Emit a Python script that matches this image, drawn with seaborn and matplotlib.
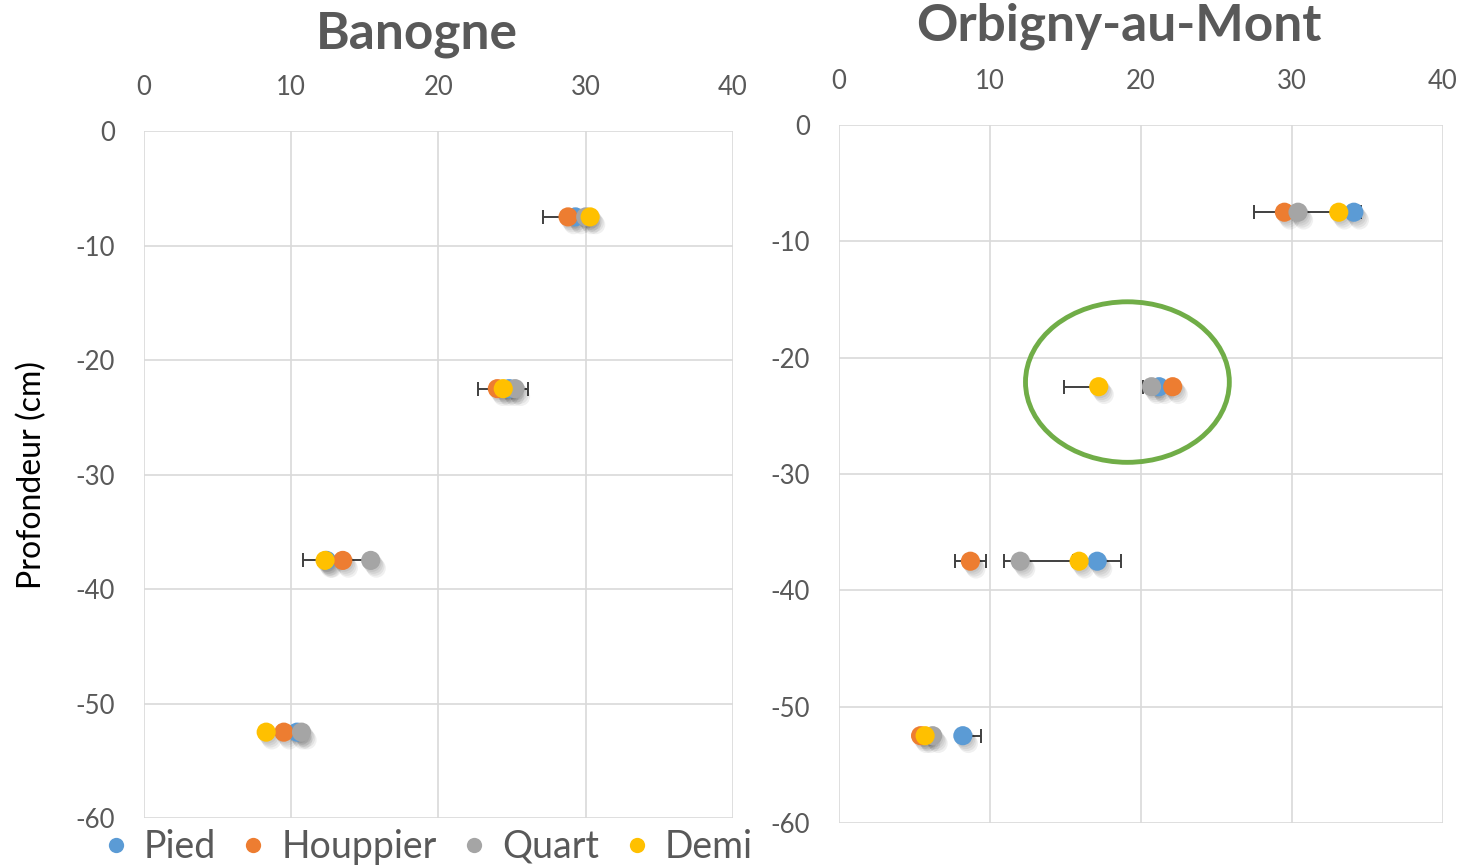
import numpy as np
import pandas as pd
import matplotlib
matplotlib.use("Agg")
import matplotlib.pyplot as plt
import matplotlib.patheffects as pe
from matplotlib.patches import Ellipse
from matplotlib.lines import Line2D
import seaborn as sns

# depths of the four soil layers (cm)
depths = [-7.5, -22.5, -37.5, -52.5]
series = ["Pied", "Houppier", "Quart", "Demi"]
colors = ["#5b9bd5", "#ed7d31", "#a5a5a5", "#ffc000"]

# Banogne values
ban_pied = [29.3, 24.8, 12.4, 10.4]
ban_houppier = [28.8, 24.0, 13.5, 9.5]
ban_quart = [30.0, 25.2, 15.4, 10.7]
ban_demi = [30.3, 24.4, 12.3, 8.3]
# error bars (minus, plus)
ban_err_lo = {"Pied": [0, 0, 0, 0], "Houppier": [1.7, 0, 0, 0],
              "Quart": [0, 0, 4.6, 0], "Demi": [0, 1.7, 0, 0]}
ban_err_hi = {"Pied": [0, 0, 0, 0], "Houppier": [1.7, 0, 0, 0],
              "Quart": [0, 0, 0.3, 0], "Demi": [0, 1.7, 0, 0]}

# Orbigny-au-Mont values
orb_pied = [34.1, 21.2, 17.1, 8.2]
orb_houppier = [29.5, 22.1, 8.7, 5.4]
orb_quart = [30.4, 20.7, 12.0, 6.2]
orb_demi = [33.1, 17.2, 15.9, 5.7]
orb_err_lo = {"Pied": [6.6, 0, 1.6, 0], "Houppier": [0, 0, 1.05, 0.3],
              "Quart": [0, 0.6, 1.1, 0], "Demi": [0, 2.3, 0, 0]}
orb_err_hi = {"Pied": [0.5, 0, 1.6, 1.2], "Houppier": [0, 0, 1.05, 0],
              "Quart": [0, 0, 3.9, 0], "Demi": [0, 0, 0, 0]}

x_ticks = [0, 10, 20, 30, 40]
y_ticks = [0, -10, -20, -30, -40, -50, -60]


def make_df(vals):
    rows = []
    for name, v in zip(series, vals):
        for d, x in zip(depths, v):
            rows.append({"serie": name, "x": x, "depth": d})
    return pd.DataFrame(rows)


sns.set_theme(style="white")
plt.rcParams["font.family"] = ["Lato", "DejaVu Sans"]
plt.rcParams["axes.unicode_minus"] = False

grey_txt = "#595959"
fig = plt.figure(figsize=(14.63, 8.66), dpi=100)
ax1 = fig.add_axes([0.0984, 0.0554, 0.4026, 0.7933])
ax2 = fig.add_axes([0.5735, 0.0497, 0.4128, 0.806])

panels = [
    (ax1, make_df([ban_pied, ban_houppier, ban_quart, ban_demi]), ban_err_lo, ban_err_hi),
    (ax2, make_df([orb_pied, orb_houppier, orb_quart, orb_demi]), orb_err_lo, orb_err_hi),
]

# soft shadow, a few faint layers
shadow = [pe.SimplePatchShadow(offset=(o, -1.4 * o), shadow_rgbFace="black", alpha=0.06)
          for o in (1, 2, 3, 4)] + [pe.Normal()]

for ax, df, elo, ehi in panels:
    for name in series:
        sub = df[df.serie == name]
        ax.errorbar(sub.x, sub.depth, xerr=[elo[name], ehi[name]], fmt="none",
                    ecolor="#404040", elinewidth=1.4, capsize=5, capthick=1.4, zorder=2)
    sns.scatterplot(data=df, x="x", y="depth", hue="serie", hue_order=series,
                    palette=colors, s=190, linewidth=0, legend=False, ax=ax, zorder=3)
    ax.collections[-1].set_path_effects(shadow)
    ax.set_xlim(0, 40)
    ax.set_ylim(-60, 0)
    ax.set_xticks(x_ticks)
    ax.set_yticks(y_ticks)
    ax.xaxis.tick_top()
    ax.grid(True, color="#d9d9d9", linewidth=1.2)
    for sp in ax.spines.values():
        sp.set_visible(False)
    ax.tick_params(axis="both", length=0, labelsize=18.5, labelcolor=grey_txt)
    ax.tick_params(axis="x", pad=22)
    ax.tick_params(axis="y", pad=21)
    ax.set_xlabel("")
    ax.set_ylabel("")

ax1.set_ylabel("Profondeur (cm)", fontsize=23, color="black", labelpad=20)

# highlight circle
ax2.add_patch(Ellipse((19.1, -22.1), 13.5, 13.8, fill=False, edgecolor="#70ad47",
                      linewidth=3.5, zorder=4))

fig.text(0.285, 0.960, "Banogne", ha="center", va="center", fontsize=37,
         fontweight="bold", color=grey_txt)
fig.text(0.765, 0.970, "Orbigny-au-Mont", ha="center", va="center", fontsize=37,
         fontweight="bold", color=grey_txt)

handles = [Line2D([0], [0], marker="o", linestyle="", markersize=11,
                  markerfacecolor=c, markeredgewidth=0) for c in colors]
fig.legend(handles, series, loc="center", bbox_to_anchor=(0.293, 0.022), ncol=4,
           frameon=False, fontsize=27, labelcolor=grey_txt, handlelength=0.6,
           handletextpad=0.45, columnspacing=0.7, borderaxespad=0)

fig.savefig("out.png", dpi=100)
